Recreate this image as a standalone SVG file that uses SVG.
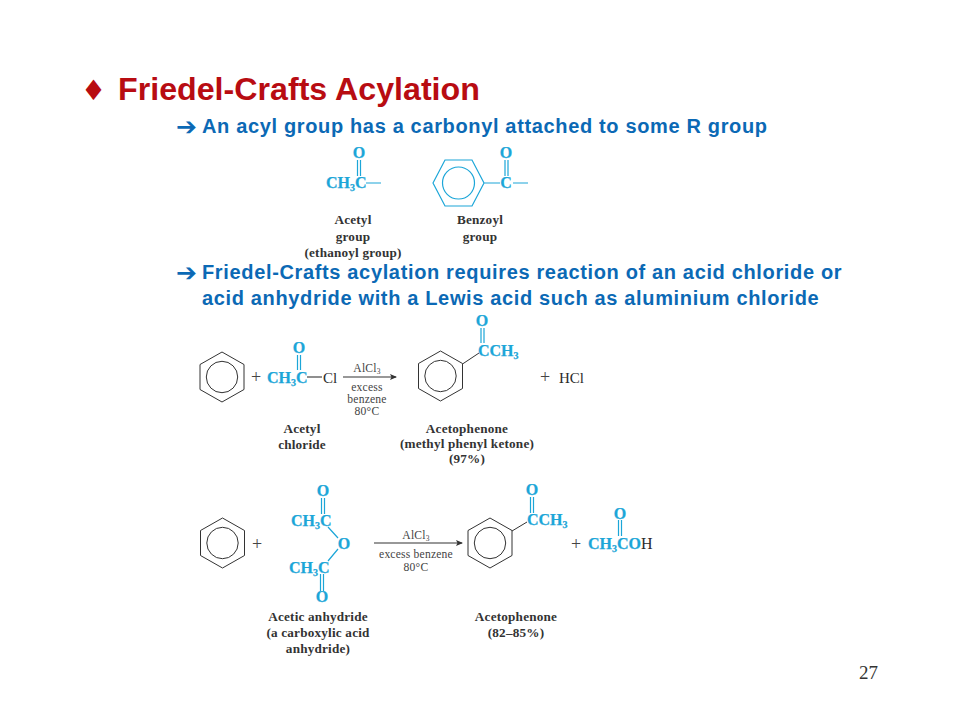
<svg xmlns="http://www.w3.org/2000/svg" width="960" height="720" viewBox="0 0 960 720">
<style>
.title{font:bold 32.2px "Liberation Sans",Arial,sans-serif;fill:#b80c12}
.sub{font:bold 20px "Liberation Sans",Arial,sans-serif;fill:#0b69b5;letter-spacing:.65px}
.arw{font:bold 25px "DejaVu Sans",sans-serif;fill:#0b69b5}
.c{font:bold 16px "Liberation Serif",serif;fill:#1ca6d8;stroke:#1ca6d8;stroke-width:.25}
.d{font:15px "Liberation Serif",serif;fill:#2b2b2b}
.p{font:18px "Liberation Serif",serif;fill:#444;text-anchor:middle}
.l{font:bold 13.2px "Liberation Serif",serif;fill:#333;text-anchor:middle;letter-spacing:.2px}
.r{font:11.6px "Liberation Serif",serif;fill:#444;text-anchor:middle;letter-spacing:.2px}
.m{text-anchor:middle}
.k{fill:none;stroke:#333;stroke-width:1}
.b{fill:none;stroke:#1ca6d8;stroke-width:1.2}
.g{fill:none;stroke:#333;stroke-width:1.1}
</style>
<defs>
<marker id="ah" markerWidth="8" markerHeight="6" refX="6" refY="3" orient="auto" markerUnits="userSpaceOnUse"><path d="M0 0L7 3L0 6L1.5 3Z" fill="#333"/></marker>
<g id="benz" class="k"><path d="M0-25L22-12.5V12.5L0 25L-22 12.5V-12.5Z"/><circle r="15.7"/></g>
</defs>
<rect width="960" height="720" fill="#fff"/>
<g id="heading">
<text x="81" y="100" style="font:bold 28px 'DejaVu Sans',sans-serif;fill:#b80c12">♦</text>
<text x="118" y="100" class="title">Friedel-Crafts Acylation</text>
<text x="176" y="135" class="arw">➔</text>
<text x="202" y="133" class="sub">An acyl group has a carbonyl attached to some R group</text>
<text x="176" y="281" class="arw">➔</text>
<text x="202" y="279" class="sub">Friedel-Crafts acylation requires reaction of an acid chloride or</text>
<text x="202" y="305" class="sub">acid anhydride with a Lewis acid such as aluminium chloride</text>
<text x="859" y="679" style="font:19px 'Liberation Serif',serif;fill:#333">27</text>
</g>
<g id="acetyl">
<text x="359" y="158" class="c m">O</text>
<path class="b" d="M357.500 160V176M360.500 160V176M366 183H381"/>
<text x="326" y="188" class="c">CH<tspan dy="3" font-size="10">3</tspan><tspan dy="-3">C</tspan></text>
<text x="353" y="224" class="l">Acetyl</text><text x="353" y="241" class="l">group</text><text x="353" y="257" class="l">(ethanoyl group)</text>
</g>
<g id="benzoyl">
<path class="b" d="M433 183L445 160H472L484 183L472 206H445ZM484 183H500M505 160V176M508 160V176M513 183H528"/>
<circle class="b" cx="458.500" cy="183" r="16"/>
<text x="506" y="158" class="c m">O</text><text x="506" y="188" class="c m">C</text>
<text x="480" y="224" class="l">Benzoyl</text><text x="480" y="241" class="l">group</text>
</g>
<g id="reaction1">
<use href="#benz" x="222" y="377"/>
<text x="256" y="383" class="p">+</text>
<text x="267" y="383" class="c">CH<tspan dy="3" font-size="10">3</tspan><tspan dy="-3">C</tspan></text>
<text x="299" y="353" class="c m">O</text>
<path class="b" d="M297.500 355V370M300.500 355V370"/>
<path class="g" d="M307 377H322"/>
<text x="323" y="383" class="d">Cl</text>
<text x="367" y="372" class="r">AlCl<tspan dy="2" font-size="7.500">3</tspan></text>
<text x="367" y="391" class="r">excess</text><text x="367" y="403" class="r">benzene</text><text x="367" y="415" class="r">80°C</text>
<text x="302" y="433" class="l">Acetyl</text><text x="302" y="449" class="l">chloride</text>
<use href="#benz" x="440.500" y="376"/>
<path class="k" d="M462.500 364L479 353"/>
<text x="478" y="356" class="c">CCH<tspan dy="3" font-size="10">3</tspan></text>
<text x="482" y="326" class="c m">O</text>
<path class="b" d="M481 328V343M484 328V343"/>
<text x="545" y="383" class="p">+</text>
<text x="559" y="383" class="d">HCl</text>
<text x="467" y="433" class="l">Acetophenone</text><text x="467" y="448" class="l">(methyl phenyl ketone)</text><text x="467" y="463" class="l">(97%)</text>
</g>
<g id="reaction2">
<use href="#benz" x="222.500" y="543"/>
<text x="257" y="550" class="p">+</text>
<text x="323" y="496" class="c m">O</text>
<path class="b" d="M321.500 498V514M324.500 498V514M328 527L338 538M338 549L328 561M320.500 574V591M323.500 574V591"/>
<text x="291" y="526" class="c">CH<tspan dy="3" font-size="10">3</tspan><tspan dy="-3">C</tspan></text>
<text x="344" y="549" class="c m">O</text>
<text x="289" y="573" class="c">CH<tspan dy="3" font-size="10">3</tspan><tspan dy="-3">C</tspan></text>
<text x="322" y="602" class="c m">O</text>
<text x="416" y="539" class="r">AlCl<tspan dy="2" font-size="7.500">3</tspan></text>
<text x="416" y="558" class="r">excess benzene</text><text x="416" y="571" class="r">80°C</text>
<use href="#benz" x="490" y="543"/>
<path class="k" d="M512 531L527 522"/>
<text x="527" y="525" class="c">CCH<tspan dy="3" font-size="10">3</tspan></text>
<text x="532" y="495" class="c m">O</text>
<path class="b" d="M530.500 497V513M533.500 497V513M618.500 520V536M621.500 520V536"/>
<text x="576" y="550" class="p">+</text>
<text x="620" y="519" class="c m">O</text>
<text x="588" y="549" class="c">CH<tspan dy="3" font-size="10">3</tspan><tspan dy="-3">CO</tspan><tspan style="font-weight:normal;fill:#2b2b2b;stroke:none">H</tspan></text>
<text x="318" y="621" class="l">Acetic anhydride</text><text x="318" y="637" class="l">(a carboxylic acid</text><text x="318" y="653" class="l">anhydride)</text>
<text x="516" y="621" class="l">Acetophenone</text><text x="516" y="637" class="l">(82–85%)</text>
</g>
<g id="connectors">
<path class="g" d="M343 377H396" marker-end="url(#ah)"/>
<path class="g" d="M374 543H462" marker-end="url(#ah)"/>
</g>
</svg>
